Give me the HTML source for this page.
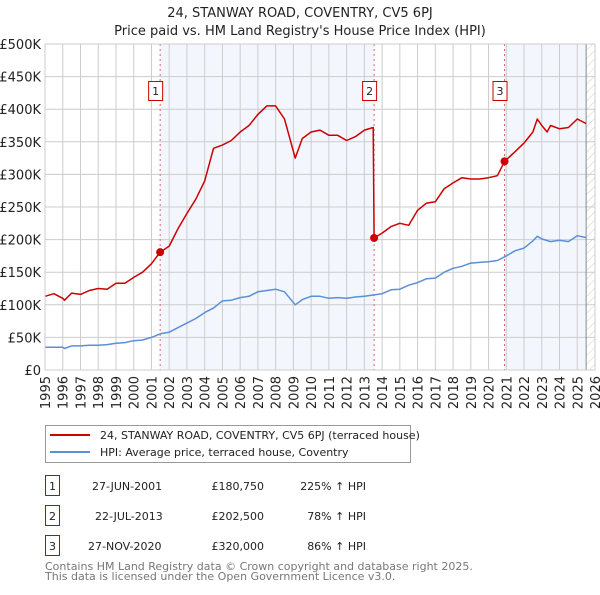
<!DOCTYPE html>
<html><head><meta charset="utf-8"><style>
body{margin:0;background:#fff;font-family:"Liberation Sans","DejaVu Sans",sans-serif}
svg text{font-family:"DejaVu Sans","Liberation Sans",sans-serif}
</style></head><body>
<svg id="c" width="600" height="590" xmlns="http://www.w3.org/2000/svg">
<defs><pattern id="hatch" width="6" height="6" patternUnits="userSpaceOnUse" patternTransform="rotate(45)"><line x1="0" y1="0" x2="0" y2="6" stroke="#ccc" stroke-width="1"/></pattern></defs>
<text x="300" y="17" text-anchor="middle" font-size="13" fill="#222">24, STANWAY ROAD, COVENTRY, CV5 6PJ</text>
<text x="300" y="35" text-anchor="middle" font-size="13" fill="#222">Price paid vs. HM Land Registry's House Price Index (HPI)</text>
<g id="plot"></g>
<g>
<rect x="45.5" y="425.5" width="365" height="37" fill="#fff" stroke="#999"/>
<line x1="50" y1="435" x2="90" y2="435" stroke="#cc0000" stroke-width="2"/>
<text x="100" y="439" font-size="11" fill="#222">24, STANWAY ROAD, COVENTRY, CV5 6PJ (terraced house)</text>
<line x1="50" y1="452" x2="90" y2="452" stroke="#5b8fd6" stroke-width="2"/>
<text x="100" y="456" font-size="11" fill="#222">HPI: Average price, terraced house, Coventry</text>
</g>
<g font-size="11" fill="#222">
<rect x="45.5" y="475.5" width="14" height="20" fill="#fff" stroke="#c00"/><text x="52.5" y="490" text-anchor="middle">1</text>
<text x="92" y="490">27-JUN-2001</text><text x="264" y="490" text-anchor="end">£180,750</text><text x="366" y="490" text-anchor="end">225% ↑ HPI</text>
<rect x="45.5" y="505.5" width="14" height="20" fill="#fff" stroke="#c00"/><text x="52.5" y="520" text-anchor="middle">2</text>
<text x="95" y="520">22-JUL-2013</text><text x="264" y="520" text-anchor="end">£202,500</text><text x="366" y="520" text-anchor="end">78% ↑ HPI</text>
<rect x="45.5" y="535.5" width="14" height="20" fill="#fff" stroke="#c00"/><text x="52.5" y="550" text-anchor="middle">3</text>
<text x="88" y="550">27-NOV-2020</text><text x="264" y="550" text-anchor="end">£320,000</text><text x="366" y="550" text-anchor="end">86% ↑ HPI</text>
</g>
<text x="45" y="570" font-size="11" fill="#777">Contains HM Land Registry data © Crown copyright and database right 2025.</text>
<text x="45" y="580" font-size="11" fill="#777">This data is licensed under the Open Government Licence v3.0.</text>
</svg>
<script>
const hpiYears=[1995,1995.5,1996,1996.1,1996.5,1997,1997.5,1998,1998.5,1999,1999.5,2000,2000.5,2001,2001.5,2002,2002.5,2003,2003.5,2004,2004.5,2005,2005.5,2006,2006.5,2007,2007.5,2008,2008.5,2009.1,2009.5,2010,2010.5,2011,2011.5,2012,2012.5,2013,2013.5,2014,2014.5,2015,2015.5,2016,2016.5,2017,2017.5,2018,2018.5,2019,2019.5,2020,2020.5,2021,2021.5,2022,2022.5,2022.75,2023,2023.5,2024,2024.5,2025,2025.5];
const hpiValues=[35,35,35,33,37,37,38,38,39,41,42,45,46,50,55.5,58,65,72,79,88,95,106,107,111,113,120,122,124,120,100,108,113,113,110,111,110,112,113,115,117,123,124,130,134,140,141,150,156,159,164,165,166,168,175,183,187,198,205,201,197,199,197,206,203];
const propYears=[1995,1995.5,1996,1996.1,1996.5,1997,1997.5,1998,1998.5,1999,1999.5,2000,2000.5,2001,2001.49,2002,2002.5,2003,2003.5,2004,2004.5,2005,2005.5,2006,2006.5,2007,2007.5,2008,2008.5,2009.1,2009.5,2010,2010.5,2011,2011.5,2012,2012.5,2013,2013.5,2013.55,2014,2014.5,2015,2015.5,2016,2016.5,2017,2017.5,2018,2018.5,2019,2019.5,2020,2020.5,2020.9,2021.5,2022,2022.5,2022.75,2023,2023.3,2023.5,2024,2024.5,2025,2025.5];
const propValues=[113,117,110,107,118,116,122,125,124,133,133,142,150,163,180.75,190,217,240,262,290,340,345,352,365,375,392,405,405,385,325,355,365,368,360,360,352,358,368,372,202.5,210,220,225,222,245,256,258,278,287,295,293,293,295,298,320,335,348,365,385,375,365,375,370,372,385,378];
const saleYears=[2001.49,2013.55,2020.9];
const salePrices=[180.75,202.5,320];
const saleLabels=["1","2","3"];
const yTicks=[0,50,100,150,200,250,300,350,400,450,500];
const yTickLabels=["£0","£50K","£100K","£150K","£200K","£250K","£300K","£350K","£400K","£450K","£500K"];
const xTicks=[1995,1996,1997,1998,1999,2000,2001,2002,2003,2004,2005,2006,2007,2008,2009,2010,2011,2012,2013,2014,2015,2016,2017,2018,2019,2020,2021,2022,2023,2024,2025,2026];
const dataEnd=2025.5;

const L=45,R=595,T=44,B=370;
const xs=y=>L+(y-1995)/(2026-1995)*(R-L);
const ys=v=>B-v/500*(B-T);
const g=document.getElementById('plot');
const NS='http://www.w3.org/2000/svg';
function mk(t,a){const e=document.createElementNS(NS,t);for(const k in a)e.setAttribute(k,a[k]);g.appendChild(e);return e;}
let e;
e=mk('rect',{x:L,y:T,width:R-L,height:B-T,fill:'#fff'});


e=mk('rect',{x:xs(saleYears[0]),y:T,width:xs(saleYears[1])-xs(saleYears[0]),height:B-T,fill:'#eef3fc',opacity:0.7});


e=mk('rect',{x:xs(saleYears[2]),y:T,width:xs(dataEnd)-xs(saleYears[2]),height:B-T,fill:'#eef3fc',opacity:0.7});


e=mk('rect',{x:xs(dataEnd),y:T,width:R-xs(dataEnd),height:B-T,fill:'url(#hatch)'});


yTicks.forEach((v,i)=>{
  e=mk('line',{x1:L,x2:R,y1:ys(v),y2:ys(v),stroke:'#ccc','stroke-width':1});
  
  
  e=mk('text',{x:L-4,y:ys(v)+5,'text-anchor':'end','font-size':13,fill:'#222'});
  e.textContent=yTickLabels[i];
  
  
});
xTicks.forEach(y=>{
  e=mk('line',{x1:xs(y),x2:xs(y),y1:T,y2:B,stroke:'#ccc','stroke-width':1});
  
  
  e=mk('text',{x:0,y:0,'text-anchor':'end','font-size':13,fill:'#222',transform:`translate(${xs(y)+5},376) rotate(-90)`});
  e.textContent=y;
  
  
});
e=mk('line',{x1:xs(dataEnd),x2:xs(dataEnd),y1:T,y2:B,stroke:'#888','stroke-width':1});


saleYears.forEach((y,i)=>{
  e=mk('line',{x1:xs(y),x2:xs(y),y1:T,y2:B,stroke:'#e06666','stroke-width':1,'stroke-dasharray':'2,3'});
  
  
});
const pts=(xa,va)=>xa.map((y,i)=>xs(y).toFixed(1)+','+ys(va[i]).toFixed(1)).join(' ');
e=mk('polyline',{points:pts(hpiYears,hpiValues),fill:'none',stroke:'#5b8fd6','stroke-width':1.5,'stroke-linejoin':'round'});


e=mk('polyline',{points:pts(propYears,propValues),fill:'none',stroke:'#cc0000','stroke-width':1.5,'stroke-linejoin':'round'});


saleYears.forEach((y,i)=>{
  e=mk('circle',{cx:xs(y),cy:ys(salePrices[i]),r:4,fill:'#cc0000'});
  
  
  e=mk('rect',{x:xs(y)-11.5,y:81.5,width:14,height:19,fill:'#fff',stroke:'#c00'});
  
  
  e=mk('text',{x:xs(y)-4.5,y:95,'text-anchor':'middle','font-size':11,fill:'#222'});
  e.textContent=saleLabels[i];
  
  
});
e=mk('rect',{x:L,y:T,width:R-L,height:B-T,fill:'none',stroke:'#ccc'});


</script>
</body></html>
